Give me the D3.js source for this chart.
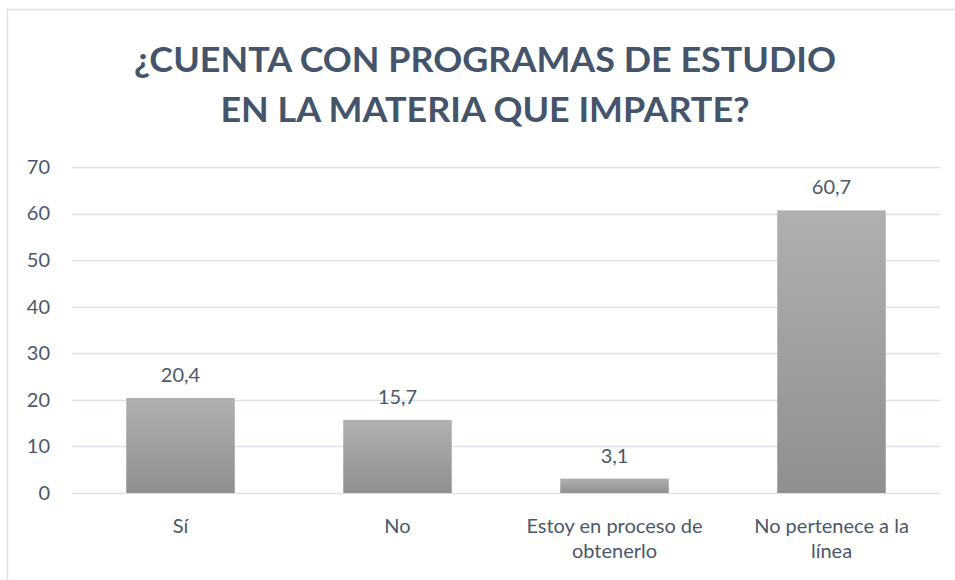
<!DOCTYPE html>
<html>
<head>
<meta charset="utf-8">
<script src="https://cdn.jsdelivr.net/npm/d3@7"></script>
<style>
  body { margin: 0; background: #fff; }
  svg { display: block; font-family: Lato, "Open Sans", sans-serif; }
</style>
</head>
<body>
<div id="chart"></div>
<script>
////////////////////////////////////////////////////////////
// DATA
////////////////////////////////////////////////////////////
var titleLines = ["¿CUENTA CON PROGRAMAS DE ESTUDIO", "EN LA MATERIA QUE IMPARTE?"];
var categories = ["Sí", "No", "Estoy en proceso de obtenerlo", "No pertenece a la línea"];
var values = [20.4, 15.7, 3.1, 60.7];
var yTicks = [0, 10, 20, 30, 40, 50, 60, 70];

var W = 955, H = 580;
var margin = {top: 167, right: 15, bottom: 87, left: 72};
var width = W - margin.left - margin.right;
var height = H - margin.top - margin.bottom;
var textColor = "#4a586b";
var labelSize = 20;

var svg = d3.select("#chart").append("svg")
    .attr("width", W)
    .attr("height", H);

// bar gradient
var grad = svg.append("defs").append("linearGradient")
    .attr("id", "barGrad")
    .attr("x1", 0).attr("y1", 0).attr("x2", 0).attr("y2", 1);
grad.append("stop").attr("offset", "0%").attr("stop-color", "#b0b0b0");
grad.append("stop").attr("offset", "100%").attr("stop-color", "#8f8f8f");

// chart frame
svg.append("rect")
    .attr("x", 7.5).attr("y", 9.5)
    .attr("width", W + 10).attr("height", H + 10)
    .attr("fill", "none")
    .attr("stroke", "#dfe3e8")
    .attr("stroke-width", 1.5);

// title - squeeze to the width of the original (narrow bold face)
var tl = svg.append("g").attr("class", "title")
    .selectAll("text")
    .data(titleLines)
    .enter().append("text")
    .attr("x", 485)
    .attr("y", function(d, i) { return 72 + i * 50; })
    .attr("text-anchor", "middle")
    .attr("font-size", 35)
    .attr("font-weight", "bold")
    .attr("fill", "#44546a")
    .text(function(d) { return d; });
var k = 702 / tl.node().getComputedTextLength();
tl.each(function() {
    var w = this.getComputedTextLength();
    d3.select(this).attr("textLength", w * k).attr("lengthAdjust", "spacingAndGlyphs");
});

var g = svg.append("g")
    .attr("transform", "translate(" + margin.left + "," + margin.top + ")");

var x = d3.scaleBand()
    .domain(categories)
    .range([0, width])
    .paddingInner(0.5)
    .paddingOuter(0.25);

var y = d3.scaleLinear()
    .domain([0, 70])
    .range([height, 0]);

// gridlines
g.append("g")
    .attr("class", "grid")
    .selectAll("line")
    .data(yTicks)
    .enter().append("line")
    .attr("x1", 0).attr("x2", width)
    .attr("y1", function(d) { return Math.round(y(d)) + 0.5; })
    .attr("y2", function(d) { return Math.round(y(d)) + 0.5; })
    .attr("stroke", "#dde2e8")
    .attr("stroke-width", 1.5);

// y axis labels
var yAxis = g.append("g")
    .call(d3.axisLeft(y).tickValues(yTicks).tickSize(0).tickPadding(22));
yAxis.select(".domain").remove();
yAxis.selectAll("text")
    .attr("font-family", "Lato, 'Open Sans', sans-serif")
    .attr("font-size", labelSize)
    .attr("fill", textColor);

// bars
g.selectAll("rect.bar")
    .data(values)
    .enter().append("rect")
    .attr("class", "bar")
    .attr("x", function(d, i) { return x(categories[i]); })
    .attr("width", x.bandwidth())
    .attr("y", function(d) { return y(d); })
    .attr("height", function(d) { return height - y(d); })
    .attr("fill", "url(#barGrad)");

// value labels
var fmt = d3.format(".1f");
g.selectAll("text.val")
    .data(values)
    .enter().append("text")
    .attr("class", "val")
    .attr("x", function(d, i) { return x(categories[i]) + x.bandwidth() / 2; })
    .attr("y", function(d) { return y(d) - 16; })
    .attr("text-anchor", "middle")
    .attr("font-size", labelSize)
    .attr("fill", textColor)
    .text(function(d) { return fmt(d).replace(".", ","); });

// category labels (wrapped)
var xAxis = g.append("g")
    .attr("transform", "translate(0," + height + ")")
    .call(d3.axisBottom(x).tickSize(0).tickPadding(0));
xAxis.select(".domain").remove();
xAxis.selectAll("text")
    .attr("font-family", "Lato, 'Open Sans', sans-serif")
    .attr("font-size", labelSize)
    .attr("fill", textColor)
    .attr("dy", null)
    .call(wrap, 188);

function wrap(text, maxW) {
    text.each(function() {
        var t = d3.select(this);
        var words = t.text().split(/\s+/);
        var line = [];
        var lineNo = 0;
        t.text(null);
        var tspan = t.append("tspan").attr("x", 0).attr("y", 40);
        words.forEach(function(w) {
            line.push(w);
            tspan.text(line.join(" "));
            if (tspan.node().getComputedTextLength() > maxW && line.length > 1) {
                line.pop();
                tspan.text(line.join(" "));
                line = [w];
                lineNo++;
                tspan = t.append("tspan").attr("x", 0).attr("y", 40 + lineNo * 25).text(w);
            }
        });
    });
}
</script>
</body>
</html>
